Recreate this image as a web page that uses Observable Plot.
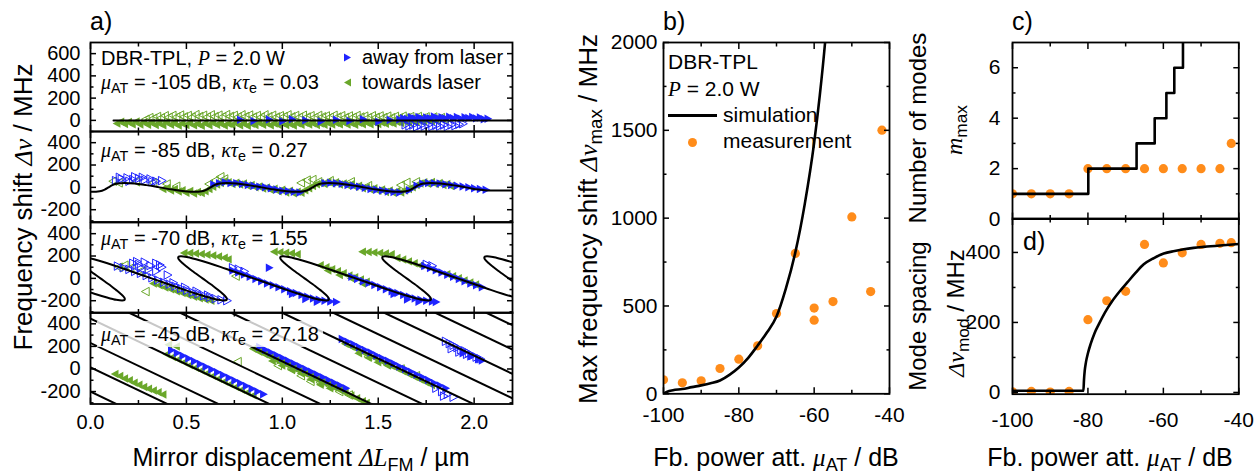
<!DOCTYPE html>
<html><head><meta charset="utf-8">
<script src="https://cdn.jsdelivr.net/npm/d3@7"></script>
<script src="https://cdn.jsdelivr.net/npm/@observablehq/plot@0.6"></script>
<style>
html,body{margin:0;padding:0;background:#fff;}
#fig{position:relative;width:1257px;height:474px;overflow:hidden;background:#fff;font-family:"Liberation Sans",Arial,Helvetica,sans-serif;color:#000;}
#fig svg{position:absolute;overflow:visible;}
.t{position:absolute;white-space:nowrap;line-height:1;}
.m{font-family:"Liberation Serif","Times New Roman",serif;font-style:italic;}
.t sub{font-size:0.72em;vertical-align:baseline;position:relative;top:0.28em;font-style:normal;font-family:"Liberation Sans",Arial,sans-serif;}
.rot{transform:translate(-50%,-50%) rotate(-90deg);}
.cx{transform:translateX(-50%);}
</style></head><body><div id="fig"></div>
<script>
// ---------------- tick values ----------------
const aXMajor = [0, 0.5, 1, 1.5, 2];
const aXMinor = [0.25, 0.75, 1.25, 1.75];
const a1YMajor = [0, 200, 400, 600];
const a1YMinor = [-100, 100, 300, 500];
const aYMajor = [-200, 0, 200, 400];
const aYMinor = [-300, -100, 100, 300];
const fbXMajor = [-100, -80, -60, -40];
const fbXMinor = [-90, -70, -50];
const bYMajor = [0, 500, 1000, 1500, 2000];
const bYMinor = [250, 750, 1250, 1750];
const cYMajor = [0, 2, 4, 6];
const cYMinor = [1, 3, 5];
const dYMajor = [0, 200, 400];
const dYMinor = [100, 300];

// ---------------- panel a: sub-panel 1 (-105 dB) ----------------
const a1Sim = [[0.12,0],[2.2,0]];
const a1GreenOpen = [[0.29,10],[0.31,25],[0.33,18],[0.35,35],[0.37,22],[0.39,42],[0.41,28],[0.43,45],[0.45,30],[0.47,48],[0.49,32],[0.51,44],[0.53,28],[0.55,52],[0.57,35],[0.59,46],[0.61,30],[0.63,50],[0.65,34],[0.67,47],[0.69,31],[0.71,52],[0.73,36],[0.75,45],[0.77,30],[0.79,50],[0.81,35],[0.83,48],[0.85,30],[0.87,44],[0.89,28],[0.91,50],[0.93,33],[0.95,46],[0.97,30],[0.99,42],[1.01,34],[1.03,50],[1.05,32],[1.07,44],[1.09,28],[1.11,46],[1.13,30],[1.15,42],[1.17,26],[1.19,45],[1.21,32],[1.23,40],[1.25,28],[1.27,46],[1.29,30],[1.31,42],[1.33,26],[1.35,40],[1.37,28],[1.39,44],[1.41,30],[1.43,38],[1.45,25],[1.47,42],[1.49,28],[1.51,40],[1.53,26],[1.55,38],[1.57,24],[1.59,36],[1.61,22],[1.63,38],[1.65,25],[1.67,34],[1.69,22],[1.71,35],[1.73,20],[1.75,32],[1.77,18],[1.79,30],[1.81,15],[1.83,25],[1.85,12]];
const a1GreenFill = [[0.14,-28],[0.16,-12],[0.18,-32],[0.20,-15],[0.22,-36],[0.24,-10],[0.26,-38],[0.28,-18],[0.30,-40],[0.32,-22],[0.34,-42],[0.36,-25],[0.38,-44],[0.40,-20],[0.42,-40],[0.44,-26],[0.46,-46],[0.48,-28],[0.50,-42],[0.52,-24],[0.54,-45],[0.56,-30],[0.58,-48],[0.60,-26],[0.62,-44],[0.64,-22],[0.66,-40],[0.68,-28],[0.70,-46],[0.72,-30],[0.74,-42],[0.76,-24],[0.78,-45],[0.80,-28],[0.82,-48],[0.84,-30],[0.86,-42],[0.88,-22],[0.90,-40],[0.92,-26],[0.94,-44],[0.96,-28],[0.98,-40],[1.00,-24],[1.02,-42],[1.04,-30],[1.06,-46],[1.08,-26],[1.10,-40],[1.12,-22],[1.14,-38],[1.16,-26],[1.18,-42],[1.20,-28],[1.22,-40],[1.24,-24],[1.26,-38],[1.28,-22],[1.30,-36],[1.32,-20],[1.34,-38],[1.36,-24],[1.38,-40],[1.40,-22],[1.42,-35],[1.44,-20],[1.46,-34],[1.48,-18],[1.50,-32],[1.52,-20],[1.54,-30],[1.56,-16],[1.58,-28],[1.60,-14],[1.62,-24],[1.64,-10],[1.66,-20],[1.68,-8],[1.70,-15],[1.72,-5],[1.74,-12],[1.76,0],[1.78,-6],[1.80,2]];
const a1BlueFill = [[0.78,5],[0.85,-5],[0.93,8],[1.00,-8],[1.05,10],[1.12,2],[1.20,-10],[1.28,6],[1.35,-5],[1.42,10],[1.50,-12],[1.56,4],[1.61,8],[1.63,20],[1.65,12],[1.67,28],[1.69,18],[1.71,30],[1.73,14],[1.75,26],[1.77,20],[1.79,35],[1.81,22],[1.83,28],[1.85,18],[1.87,32],[1.89,20],[1.91,30],[1.93,15],[1.95,28],[1.97,22],[1.99,30],[2.01,18],[2.03,25],[2.05,10],[2.07,15]];
const a1BlueOpen = [[1.64,-40],[1.66,-50],[1.68,-42],[1.70,-58],[1.72,-45],[1.74,-52],[1.76,-40],[1.78,-55],[1.80,-45],[1.82,-52],[1.84,-42],[1.86,-55],[1.88,-40],[1.90,-48],[1.92,-35],[1.94,-30]];

// ---------------- sub-panel 2 (-85 dB) ----------------
const a2Sim = [[0.000,-39],[0.010,-40],[0.048,-35],[0.074,-20],[0.094,0],[0.114,20],[0.140,35],[0.178,40],[0.229,35],[0.291,20],[0.360,0],[0.429,-20],[0.491,-35],[0.542,-40],[0.580,-35],[0.606,-20],[0.626,0],[0.646,20],[0.672,35],[0.710,40],[0.761,35],[0.823,20],[0.892,0],[0.961,-20],[1.023,-35],[1.074,-40],[1.112,-35],[1.138,-20],[1.158,0],[1.178,20],[1.204,35],[1.242,40],[1.293,35],[1.355,20],[1.424,0],[1.493,-20],[1.555,-35],[1.606,-40],[1.644,-35],[1.670,-20],[1.690,0],[1.710,20],[1.736,35],[1.774,40],[1.825,35],[1.887,20],[1.956,0],[2.025,-20],[2.070,-28],[2.200,-28]];
const a2BlueOpen = [[0.13,60],[0.16,75],[0.19,85],[0.22,70],[0.25,80],[0.28,65],[0.31,75],[0.34,55],[0.37,60],[0.20,55],[0.27,90],[0.15,90],[0.23,95],[0.32,50]];
const a2GreenOpen = [[0.12,55],[0.15,40],[0.24,50],[0.33,40],[0.40,30],[0.45,10],[0.62,30],[0.65,60],[0.68,95],[0.70,75],[1.10,40],[1.13,65],[1.16,70],[1.19,50],[1.25,60],[1.36,50],[1.45,15],[1.62,20],[1.65,45],[1.70,50]];
const a2GreenFill = [[0.38,-15],[0.40,-5],[0.42,-28],[0.44,-15],[0.46,-38],[0.48,-25],[0.50,-48],[0.52,-32],[0.54,-55],[0.56,-42],[0.58,-50],[0.60,-35],[0.62,-15],[0.64,5],[0.66,25],[0.68,40],[0.70,55],[0.72,45],[0.74,30],[0.76,42],[0.78,25],[0.80,35],[0.82,15],[0.84,22],[0.86,2],[0.88,8],[0.90,-10],[0.92,-2],[0.94,-22],[0.96,-12],[0.98,-35],[1.00,-22],[1.02,-45],[1.04,-30],[1.06,-52],[1.08,-40],[1.10,-48],[1.12,-25],[1.14,-8],[1.16,12],[1.18,28],[1.20,40],[1.22,30],[1.24,48],[1.26,35],[1.28,45],[1.30,25],[1.32,35],[1.34,18],[1.36,28],[1.38,5],[1.40,15],[1.42,-8],[1.44,2],[1.46,-20],[1.48,-8],[1.50,-30],[1.52,-18],[1.54,-42],[1.56,-28],[1.58,-48],[1.60,-32],[1.62,-45],[1.64,-28],[1.66,-15],[1.68,0],[1.70,20],[1.72,35],[1.74,45],[1.76,32],[1.78,48],[1.80,30],[1.82,40],[1.84,22],[1.86,30],[1.88,12]];
const a2BlueFill = [[0.64,25],[0.67,38],[0.70,45],[0.73,40],[0.76,38],[0.79,30],[0.82,22],[0.85,15],[0.88,5],[0.91,0],[0.94,-8],[0.97,-20],[1.00,-30],[1.03,-35],[1.06,-40],[1.09,-45],[1.22,38],[1.25,42],[1.28,36],[1.31,32],[1.34,22],[1.37,15],[1.40,5],[1.43,-3],[1.46,-15],[1.49,-22],[1.52,-28],[1.55,-38],[1.58,-42],[1.61,-45],[1.66,-25],[1.70,15],[1.73,32],[1.76,40],[1.79,38],[1.82,35],[1.85,28],[1.88,22],[1.91,15],[1.94,8],[1.97,0],[2.00,-8],[2.03,-15],[2.06,-22]];

// ---------------- sub-panel 3 (-70 dB) ----------------
const a3Shape = [[-0.379,198],[-0.348,192],[-0.330,185],[-0.300,171],[-0.234,137],[-0.173,103],[-0.115,68],[0,0],[0.115,-68],[0.173,-103],[0.234,-137],[0.300,-171],[0.330,-185],[0.348,-192],[0.379,-198],[0.390,-195],[0.393,-186],[0.390,-171],[0.371,-137],[0.347,-103],[0.321,-68],[0.266,0],[0.211,68],[0.185,103],[0.161,137],[0.142,171],[0.139,186],[0.142,195]];
const a3Centers = [-0.214, 0.318, 0.850, 1.382, 1.914, 2.446];
const a3BlueOpen = [[0.14,110],[0.17,95],[0.20,80],[0.23,62],[0.26,45],[0.29,25],[0.32,5],[0.35,-15],[0.38,-35],[0.41,-52],[0.44,-70],[0.47,-90],[0.50,-108],[0.53,-125],[0.56,-140],[0.59,-155],[0.62,-170],[0.65,-182],[0.68,-192],[0.71,-200],[0.22,135],[0.25,125],[0.28,145],[0.31,115],[0.34,135],[0.37,100],[0.30,80],[0.26,95],[0.34,65],[0.40,30],[0.24,150],[0.36,120],[0.74,95],[0.77,82],[0.80,62],[1.75,125],[1.78,112],[0.43,-40],[0.49,-80],[0.55,-115],[0.61,-150]];
const a3BlueFill = [[0.74,70],[0.77,52],[0.80,35],[0.83,15],[0.86,-5],[0.89,-25],[0.92,-45],[0.95,-62],[0.98,-80],[1.01,-98],[1.04,-115],[1.07,-132],[1.10,-150],[1.13,-165],[1.16,-180],[1.19,-192],[1.22,-200],[1.25,-208],[1.28,-212],[0.93,95],[1.36,15],[1.39,-5],[1.42,-25],[1.45,-42],[1.48,-60],[1.51,-80],[1.54,-97],[1.57,-115],[1.60,-132],[1.63,-148],[1.66,-165],[1.69,-180],[1.72,-192],[1.75,-200],[1.78,-208],[1.80,-212],[1.74,110],[1.77,92],[1.80,72],[1.83,52],[1.86,32],[1.89,14],[1.92,-5],[1.95,-25],[1.98,-45],[2.01,-62],[2.04,-80],[1.05,-140],[1.12,-185],[1.18,-210],[1.58,-140],[1.65,-190],[1.71,-210]];
const a3GreenFill = [[0.33,-45],[0.36,-62],[0.39,-82],[0.42,-98],[0.45,-115],[0.48,-132],[0.51,-148],[0.54,-165],[0.57,-178],[0.60,-190],[0.63,-200],[0.49,228],[0.52,226],[0.55,222],[0.58,218],[0.61,212],[0.64,205],[0.67,196],[0.70,185],[0.72,170],[0.96,238],[0.99,234],[1.02,230],[1.05,224],[1.08,216],[1.20,118],[1.23,100],[1.26,82],[1.29,64],[1.32,46],[1.35,26],[1.38,10],[1.41,-10],[1.44,-30],[1.42,238],[1.45,235],[1.48,232],[1.51,228],[1.54,222],[1.57,215],[1.60,182],[1.63,168],[1.66,152],[1.69,136],[1.72,116],[1.86,38],[1.89,20],[1.92,2],[1.95,-18],[1.98,-38],[2.01,-55],[1.24,70],[1.30,30],[1.36,0],[1.42,-45]];
const a3GreenOpen = [[0.15,100],[0.18,118],[0.21,92],[0.29,-118],[0.76,20],[0.27,70]];

// ---------------- sub-panel 4 (-45 dB) ----------------
const a4LineTopX = [-0.865,-0.599,-0.333,-0.067,0.199,0.465,0.731,0.997,1.263,1.529,1.795,2.061];
const a4LineBottomX = [0.147,0.413,0.679,0.945,1.211,1.477,1.743,2.009,2.275,2.541,2.807,3.073];
const a4LineTopY = 500, a4LineBottomY = -320;
const a4GreenFill = [[0.13,-45],[0.155,-62],[0.18,-85],[0.205,-100],[0.23,-122],[0.255,-140],[0.28,-160],[0.305,-175],[0.33,-190],[0.355,-205],[0.38,-225],[0.41,215],[0.45,200],[0.40,131],[0.43,107],[0.46,83],[0.49,59],[0.52,34],[0.55,10],[0.58,-14],[0.61,-38],[0.64,-63],[0.67,-87],[0.70,-111],[0.73,-136],[0.76,-160],[0.79,-184],[0.82,-209],[0.85,-233],[0.85,178],[0.88,153],[0.91,130],[0.94,105],[0.97,80],[1.00,56],[1.03,32],[1.06,8],[1.09,-17],[1.12,-41],[1.15,-65],[1.18,-90],[1.21,-114],[1.24,-138],[1.27,-162],[1.30,-187],[1.33,-211],[1.36,-235],[1.39,-260],[1.42,-285],[1.44,-300],[0.95,70],[1.00,30],[1.05,-10],[1.10,-40],[1.15,-90],[1.20,-140],[1.25,-170],[1.33,223],[1.36,199],[1.39,174],[1.42,150],[1.45,126],[1.48,101],[1.51,77],[1.54,53],[1.57,29],[1.60,4],[1.63,-20],[1.66,-44],[1.69,-69],[1.72,-93],[1.75,-117],[1.78,-142],[1.40,140],[1.45,100],[1.50,60],[1.55,30]];
const a4GreenOpen = [[0.77,65],[1.10,-60],[1.15,-110],[1.20,-120],[1.25,-150],[1.30,-200],[1.35,-230],[0.98,30],[1.05,0],[1.45,110],[1.55,40],[1.62,0],[1.70,-60]];
const a4BlueFill = [[0.42,165],[0.45,141],[0.48,117],[0.51,92],[0.54,68],[0.57,44],[0.60,19],[0.63,-5],[0.66,-29],[0.69,-53],[0.72,-78],[0.75,-102],[0.78,-126],[0.81,-150],[0.84,-175],[0.87,-199],[0.90,-223],[0.88,194],[0.91,170],[0.94,145],[0.97,121],[1.00,97],[1.03,73],[1.06,48],[1.09,24],[1.12,0],[1.15,-25],[1.18,-49],[1.21,-73],[1.24,-98],[1.27,-122],[1.30,-146],[1.33,-170],[1.31,266],[1.34,242],[1.37,218],[1.40,193],[1.43,169],[1.46,145],[1.49,120],[1.52,96],[1.55,72],[1.58,48],[1.61,23],[1.64,-1],[1.67,-25],[1.70,-50],[1.73,-74],[1.76,-98],[1.79,-123],[1.82,-147],[1.85,-171],[1.94,140],[1.98,110],[2.02,85],[2.04,75]];
const a4BlueOpen = [[1.80,-170],[1.83,-200],[1.86,-225],[1.89,-250],[1.84,-240],[1.85,245],[1.87,225],[1.89,210],[1.91,190],[1.93,170],[1.95,160],[1.97,140],[1.99,120],[2.01,105],[2.03,90],[1.88,180],[1.92,150],[1.96,130]];

// ---------------- panel b ----------------
const bMeasX = [-100,-95,-90,-85,-80,-75,-70,-65,-60,-60,-55,-50,-45,-42];
const bMeasY = [80,63,74,144,197,273,457,799,488,419,525,1007,582,1501];
const bSimX = [-100,-99,-97.5,-95,-92.5,-90,-87.5,-85,-82.5,-80,-77.5,-75,-72.5,-70,-67.5,-65,-62.5,-60,-58.5,-57.1,-56.5];
const bSimY = [0,12,20,27,38,48,60,76,108,150,205,275,350,440,600,805,1080,1430,1700,2000,2150];

// ---------------- panel c ----------------
const cMeasX = [-100,-95,-90,-85,-80,-75,-70,-65,-60,-55,-50,-45,-42];
const cMeasY = [1,1,1,1,2,2,2,2,2,2,2,2,3];
const cStepX = [-100,-79.9,-67.1,-62.3,-59.2,-57.1,-54.8,-54.8];
const cStepY = [1,2,3,4,5,6,7,7.6];

// ---------------- panel d ----------------
const dMeasX = [-100,-95,-90,-85,-80,-75,-70,-65,-60,-55,-50,-45,-42];
const dMeasY = [2,3,1,3,208,262,289,423,370,399,423,426,428];
const dSimX = [-100,-81.2,-81.05,-80.85,-80.5,-80,-79.3,-78.3,-77.1,-75.5,-73.5,-71.5,-69.5,-67.5,-65.2,-62.5,-59.9,-57,-54.6,-52,-49.3,-45,-40];
const dSimY = [5,5,35,62,88,112,138,168,195,228,262,290,315,340,366,384,397,404,409,413,416,420,424];

// ---------------- styling ----------------
const BLUE = "#1f24ff", GREEN = "#6aa72a", ORANGE = "#ff8c1a";
const FONT = "'Liberation Sans', Arial, Helvetica, sans-serif";
const FIG = document.getElementById("fig");
const blank = () => "";
const hy = d => String(d);

const TRI_R = {draw(ctx, size) { const r = Math.sqrt(size / Math.PI) * 1.15; ctx.moveTo(r, 0); ctx.lineTo(-r * 0.65, r * 0.9); ctx.lineTo(-r * 0.65, -r * 0.9); ctx.closePath(); }};
const TRI_L = {draw(ctx, size) { const r = Math.sqrt(size / Math.PI) * 1.15; ctx.moveTo(-r, 0); ctx.lineTo(r * 0.65, r * 0.9); ctx.lineTo(r * 0.65, -r * 0.9); ctx.closePath(); }};

function tri(data, right, color, filled) {
  return Plot.dot(data, {x: d => d[0], y: d => d[1], symbol: right ? TRI_R : TRI_L, r: 4.1,
    fill: filled ? color : "none", stroke: filled ? "none" : color, strokeWidth: 1, clip: true});
}

function axisMarks({xMajor, xMinor, yMajor, yMinor, xFmt = hy, yFmt = hy, showX = true, showY = true, xPad = 5, yPad = 4, major = 6, minor = 3.5}) {
  const o = {label: null, strokeWidth: 1.5};
  const m = [
    Plot.axisX(xMajor, {...o, anchor: "bottom", tickSize: major, tickPadding: xPad, tickFormat: showX ? xFmt : blank}),
    Plot.axisX(xMajor, {...o, anchor: "top", tickSize: major, tickFormat: blank}),
    Plot.axisY(yMajor, {...o, anchor: "left", tickSize: major, tickPadding: yPad, tickFormat: showY ? yFmt : blank}),
    Plot.axisY(yMajor, {...o, anchor: "right", tickSize: major, tickFormat: blank})
  ];
  if (xMinor) m.push(Plot.axisX(xMinor, {...o, anchor: "bottom", tickSize: minor, tickFormat: blank}), Plot.axisX(xMinor, {...o, anchor: "top", tickSize: minor, tickFormat: blank}));
  if (yMinor) m.push(Plot.axisY(yMinor, {...o, anchor: "left", tickSize: minor, tickFormat: blank}), Plot.axisY(yMinor, {...o, anchor: "right", tickSize: minor, tickFormat: blank}));
  return m;
}

function flipTicks(svg) {
  svg.querySelectorAll('g[aria-label="x-axis tick"] path, g[aria-label="y-axis tick"] path').forEach(p => {
    const t = p.getAttribute("transform") || "";
    p.setAttribute("transform", t + " scale(-1,-1)");
  });
}

function mkPlot({frame, m, fontSize, x, y, marks}) {
  const [l, t, r, b] = frame, [mt, mr, mb, ml] = m;
  const svg = Plot.plot({
    width: (r - l) + ml + mr, height: (b - t) + mt + mb,
    marginTop: mt, marginRight: mr, marginBottom: mb, marginLeft: ml,
    x, y,
    style: {fontFamily: FONT, fontSize: fontSize + "px", color: "#000", background: "transparent", overflow: "visible"},
    marks
  });
  flipTicks(svg);
  svg.style.left = (l - ml) + "px";
  svg.style.top = (t - mt) + "px";
  FIG.appendChild(svg);
}

function T(html, css, cls = "") {
  const d = document.createElement("div");
  d.className = "t " + cls;
  d.innerHTML = html;
  Object.assign(d.style, css);
  FIG.appendChild(d);
  return d;
}

const frameMark = () => Plot.frame({stroke: "#000", strokeWidth: 1.8});
const P = d => d[0], Q = d => d[1];

// ---------------- panel a ----------------
const aL = 90, aR = 512;
const aB = [42, 131, 221.5, 312, 403.5];
const aFmt = d => d.toFixed(1);

function panelA(i, yDomain, yMajor, yMinor, dataMarks, showX) {
  mkPlot({
    frame: [aL, aB[i], aR, aB[i + 1]], m: [2, 10, showX ? 60 : 2, 90], fontSize: 20,
    x: {domain: [0, 2.2]}, y: {domain: yDomain},
    marks: [...dataMarks, frameMark(),
      ...axisMarks({xMajor: aXMajor, xMinor: aXMinor, yMajor, yMinor, xFmt: aFmt, showX, xPad: 5, yPad: 4})]
  });
}

panelA(0, [-100, 700], a1YMajor, a1YMinor, [
  tri(a1GreenFill, false, GREEN, true), tri(a1GreenOpen, false, GREEN, false),
  tri(a1BlueOpen, true, BLUE, false), tri(a1BlueFill, true, BLUE, true),
  Plot.line(a1Sim, {x: P, y: Q, stroke: "#000", strokeWidth: 2, clip: true})
], false);

panelA(1, [-310, 500], aYMajor, aYMinor, [
  tri(a2GreenFill, false, GREEN, true), tri(a2GreenOpen, false, GREEN, false),
  tri(a2BlueOpen, true, BLUE, false), tri(a2BlueFill, true, BLUE, true),
  Plot.line(a2Sim, {x: P, y: Q, stroke: "#000", strokeWidth: 2, curve: "monotone-x", clip: true})
], false);

const a3Curve = a3Centers.flatMap(c => a3Shape.map(([dx, y]) => [c + dx, y]));
panelA(2, [-310, 500], aYMajor, aYMinor, [
  tri(a3GreenFill, false, GREEN, true), tri(a3GreenOpen, false, GREEN, false),
  tri(a3BlueOpen, true, BLUE, false), tri(a3BlueFill, true, BLUE, true),
  Plot.line(a3Curve, {x: P, y: Q, stroke: "#000", strokeWidth: 2, curve: "catmull-rom", clip: true})
], false);

const a4Lines = a4LineTopX.map((xt, k) => ({x1: xt, y1: a4LineTopY, x2: a4LineBottomX[k], y2: a4LineBottomY}));
panelA(3, [-310, 500], aYMajor, aYMinor, [
  tri(a4GreenFill, false, GREEN, true), tri(a4GreenOpen, false, GREEN, false),
  tri(a4BlueOpen, true, BLUE, false), tri(a4BlueFill, true, BLUE, true),
  Plot.link(a4Lines, {x1: "x1", y1: "y1", x2: "x2", y2: "y2", stroke: "#000", strokeWidth: 2, clip: true})
], true);

// ---------------- panel b ----------------
const bMeas = bMeasX.map((x, i) => [x, bMeasY[i]]);
const bSim = bSimX.map((x, i) => [x, bSimY[i]]);
mkPlot({
  frame: [663, 41.7, 889, 393], m: [5, 10, 40, 70], fontSize: 21,
  x: {domain: [-100, -40]}, y: {domain: [0, 2000]},
  marks: [
    Plot.dot(bMeas, {x: P, y: Q, r: 4.6, fill: ORANGE, clip: true}),
    Plot.line(bSim, {x: P, y: Q, stroke: "#000", strokeWidth: 2.6, curve: "monotone-x", clip: true}),
    frameMark(),
    ...axisMarks({xMajor: fbXMajor, xMinor: fbXMinor, yMajor: bYMajor, yMinor: bYMinor, xPad: 7, yPad: 0})
  ]
});

// ---------------- panel c ----------------
const cMeas = cMeasX.map((x, i) => [x, cMeasY[i]]);
const cStep = cStepX.map((x, i) => [x, cStepY[i]]);
mkPlot({
  frame: [1011.7, 41.7, 1238, 218.3], m: [5, 10, 5, 50], fontSize: 21,
  x: {domain: [-100, -40]}, y: {domain: [0, 7]},
  marks: [
    Plot.dot(cMeas, {x: P, y: Q, r: 4.6, fill: ORANGE, clip: true}),
    Plot.line(cStep, {x: P, y: Q, stroke: "#000", strokeWidth: 2.6, curve: "step-after", clip: true}),
    frameMark(),
    ...axisMarks({xMajor: fbXMajor, xMinor: fbXMinor, yMajor: cYMajor, yMinor: cYMinor, showX: false, yPad: 6})
  ]
});

// ---------------- panel d ----------------
const dMeas = dMeasX.map((x, i) => [x, dMeasY[i]]);
const dSim = dSimX.map((x, i) => [x, dSimY[i]]);
mkPlot({
  frame: [1011.7, 218.3, 1238, 394], m: [5, 10, 40, 50], fontSize: 21,
  x: {domain: [-100, -40]}, y: {domain: [-5, 497]},
  marks: [
    Plot.dot(dMeas, {x: P, y: Q, r: 4.6, fill: ORANGE, clip: true}),
    Plot.line(dSim, {x: P, y: Q, stroke: "#000", strokeWidth: 2.6, curve: "monotone-x", clip: true}),
    frameMark(),
    ...axisMarks({xMajor: fbXMajor, xMinor: fbXMinor, yMajor: dYMajor, yMinor: dYMinor, xPad: 12, yPad: 6})
  ]
});

// ---------------- texts ----------------
const mu = '<span class="m">μ</span><sub>AT</sub>';
const kt = '<span class="m">κτ</span><sub>e</sub>';
T('DBR-TPL, <span class="m">P</span> = 2.0 W', {left: "101px", top: "48px", fontSize: "20px"});
T(mu + ' = -105 dB, ' + kt + ' = 0.03', {left: "101px", top: "72px", fontSize: "20px"});
T('<svg width="9" height="9" style="position:absolute;left:-19px;top:6px;overflow:visible"><path d="M8,4.5L1,0.5L1,8.5Z" fill="' + BLUE + '"/></svg>away from laser', {left: "362px", top: "47px", fontSize: "20px"});
T('<svg width="9" height="9" style="position:absolute;left:-19px;top:6px;overflow:visible"><path d="M1,4.5L8,0.5L8,8.5Z" fill="' + GREEN + '"/></svg>towards laser', {left: "362px", top: "72px", fontSize: "20px"});
T(mu + ' = -85 dB, ' + kt + ' = 0.27', {left: "101px", top: "140px", fontSize: "20px"});
T(mu + ' = -70 dB, ' + kt + ' = 1.55', {left: "101px", top: "228px", fontSize: "20px"});
T(mu + ' = -45 dB, ' + kt + ' = 27.18', {left: "97px", top: "321px", fontSize: "20px", padding: "3px 4px", background: "rgba(255,255,255,0.78)"});

T('Frequency shift <span class="m">Δν</span> / MHz', {left: "23px", top: "207px", fontSize: "26px"}, "rot");
T('Mirror displacement <span class="m">ΔL</span><sub>FM</sub> / µm', {left: "301px", top: "445px", fontSize: "25px"}, "cx");
T('Max frequency shift <span class="m">Δν</span><sub>max</sub> / MHz', {left: "588px", top: "219px", fontSize: "26px"}, "rot");
T('Fb. power att. ' + mu + ' / dB', {left: "776px", top: "445px", fontSize: "25px"}, "cx");
T('Fb. power att. ' + mu + ' / dB', {left: "1110px", top: "445px", fontSize: "25px"}, "cx");
T('Number of modes', {left: "918px", top: "128px", fontSize: "24px"}, "rot");
T('<span class="m">m</span><sub>max</sub>', {left: "954px", top: "130px", fontSize: "24px"}, "rot");
T('Mode spacing', {left: "918px", top: "316px", fontSize: "24px"}, "rot");
T('<span class="m">Δν</span><sub>mod</sub> / MHz', {left: "956px", top: "313px", fontSize: "24px"}, "rot");

T('a)', {left: "90px", top: "9px", fontSize: "25px"});
T('b)', {left: "663px", top: "9px", fontSize: "25px"});
T('c)', {left: "1012px", top: "9px", fontSize: "25px"});
T('d)', {left: "1023px", top: "229px", fontSize: "25px"});

T('DBR-TPL', {left: "668px", top: "51px", fontSize: "21px"});
T('<span class="m">P</span> = 2.0 W', {left: "668px", top: "78px", fontSize: "21px"});
T('', {left: "668px", top: "113.5px", width: "49px", height: "3px", background: "#000"});
T('simulation', {left: "723px", top: "104px", fontSize: "21px"});
T('', {left: "688px", top: "137.5px", width: "9.2px", height: "9.2px", borderRadius: "50%", background: ORANGE});
T('measurement', {left: "723px", top: "130px", fontSize: "21px"});
</script></body></html>
